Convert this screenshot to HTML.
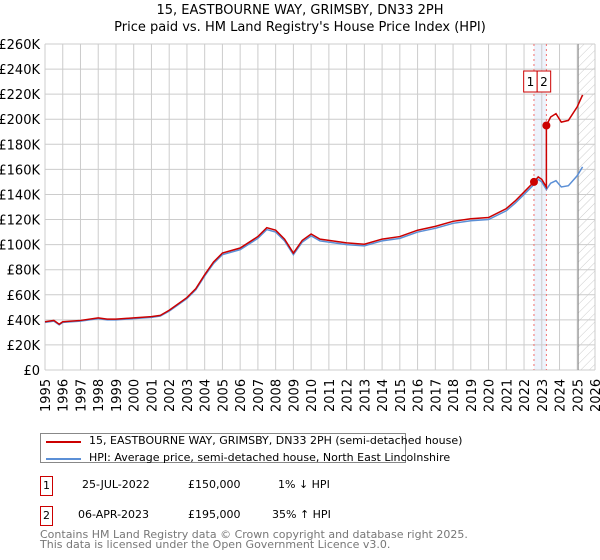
<!DOCTYPE html>
<html><head><meta charset="utf-8"><style>
body{margin:0;width:600px;height:560px;background:#fff;font-family:"DejaVu Sans","Liberation Sans",sans-serif;overflow:hidden;position:relative}
.t{position:absolute;font-size:12px;color:#000;white-space:nowrap}
</style></head><body>
<div class="t" style="left:0;width:600px;text-align:center;top:2px;font-size:13px;line-height:17px">15, EASTBOURNE WAY, GRIMSBY, DN33 2PH<br>Price paid vs. HM Land Registry's House Price Index (HPI)</div>
<svg id="c" width="600" height="420" style="position:absolute;left:0;top:0"></svg>
<div style="position:absolute;left:40px;top:433px;width:364px;height:28px;border:1px solid #888;font-size:11px">
 <div style="position:absolute;left:5px;top:7px;width:35px;height:2px;background:#cc0000"></div>
 <div class="t" style="left:48px;top:0px;font-size:11px">15, EASTBOURNE WAY, GRIMSBY, DN33 2PH (semi-detached house)</div>
 <div style="position:absolute;left:5px;top:24px;width:35px;height:2px;background:#5b8fd6"></div>
 <div class="t" style="left:48px;top:17px;font-size:11px">HPI: Average price, semi-detached house, North East Lincolnshire</div>
</div>
<div style="position:absolute;left:40px;top:476px;width:11px;height:18px;border:1px solid #cc0000;font-size:11px;text-align:center;line-height:18px">1</div>
<div class="t" style="left:82px;top:478px;font-size:11px">25-JUL-2022</div>
<div class="t" style="left:188px;top:478px;font-size:11px">£150,000</div>
<div class="t" style="left:278px;top:478px;font-size:11px">1% ↓ HPI</div>
<div style="position:absolute;left:40px;top:506px;width:11px;height:18px;border:1px solid #cc0000;font-size:11px;text-align:center;line-height:18px">2</div>
<div class="t" style="left:78px;top:508px;font-size:11px">06-APR-2023</div>
<div class="t" style="left:188px;top:508px;font-size:11px">£195,000</div>
<div class="t" style="left:272px;top:508px;font-size:11px">35% ↑ HPI</div>
<div class="t" style="left:40px;top:530px;font-size:11px;color:#777;line-height:10px">Contains HM Land Registry data © Crown copyright and database right 2025.<br>This data is licensed under the Open Government Licence v3.0.</div>
<script>
const hpiYears=[1995,1995.5,1995.8,1996,1997,1998,1998.5,1999,2000,2001,2001.5,2002,2003,2003.5,2004,2004.5,2005,2006,2007,2007.5,2008,2008.5,2009,2009.5,2010,2010.5,2011,2012,2013,2014,2015,2016,2017,2018,2019,2020,2021,2021.5,2022,2022.56,2022.8,2023,2023.26,2023.5,2023.8,2024.1,2024.5,2025,2025.3];
const hpiValues=[38,39,36,38,39,41,40,40,41,42,43,47,57,64,75,85,92,96,105,112,110,103,92,102,107,103,102,100,99,103,105,110,113,117,119,120,127,133,140,148,152,150,144,149,151,146,147,155,162];
const saleYears=[2022.56,2023.26];
const salePrices=[150,195];
const yTicks=[0,20,40,60,80,100,120,140,160,180,200,220,240,260];
const xTicks=[1995,1996,1997,1998,1999,2000,2001,2002,2003,2004,2005,2006,2007,2008,2009,2010,2011,2012,2013,2014,2015,2016,2017,2018,2019,2020,2021,2022,2023,2024,2025,2026];
const X0=45,X1=595,Y0=370,Y1=44;
const xs=y=>X0+(y-1995)/(2026-1995)*(X1-X0);
const ys=v=>Y0-v/260*(Y0-Y1);
const svg=document.getElementById('c');const NS='http://www.w3.org/2000/svg';
function mk(tag,at,name){const e=document.createElementNS(NS,tag);for(const k in at)e.setAttribute(k,at[k]);


svg.appendChild(e);return e;}
const defs=mk('defs',{},'defs');
defs.innerHTML='<pattern id="h" width="6" height="6" patternUnits="userSpaceOnUse" patternTransform="rotate(45)"><line x1="0" y1="0" x2="0" y2="6" stroke="#ccc" stroke-width="1"/></pattern>';
mk('rect',{x:xs(2025.05),y:Y1,width:X1-xs(2025.05),height:Y0-Y1,fill:'url(#h)'},'future-hatch');
mk('rect',{x:xs(saleYears[0]),y:Y1,width:xs(saleYears[1])-xs(saleYears[0]),height:Y0-Y1,fill:'#eef3fc'},'sale-span');
yTicks.forEach(v=>{mk('line',{x1:X0,x2:X1,y1:ys(v),y2:ys(v),stroke:'#ccc'},'y-gridline');
const t=mk('text',{x:40,y:ys(v)+5,'text-anchor':'end','font-size':13,fill:'#000'},'y-tick-label');t.textContent='£'+(v?v+'K':'0');});
xTicks.forEach(y=>{mk('line',{x1:xs(y),x2:xs(y),y1:Y1,y2:Y0,stroke:'#ccc'},'x-gridline');
const t=mk('text',{x:0,y:0,'font-size':13,fill:'#000',transform:`translate(${xs(y)+5},${Y0+42}) rotate(-90)`},'x-tick-label');t.textContent=y;});
mk('line',{x1:xs(2025.05),x2:xs(2025.05),y1:Y1,y2:Y0,stroke:'#888'},'data-end-line');
const mid=(xs(saleYears[0])+xs(saleYears[1]))/2-3;
saleYears.forEach((y,i)=>{mk('line',{x1:xs(y),x2:xs(y),y1:Y1,y2:Y0,stroke:'#f07070','stroke-dasharray':'2,3'},'sale-line-'+(i+1));
const bx=i==0?mid-13.5:mid;mk('rect',{x:bx,y:71,width:13.5,height:21,fill:'#fff',stroke:'#cc0000'},'sale-label-box');
const t=mk('text',{x:bx+6.75,y:86,'text-anchor':'middle','font-size':12},'sale-label');t.textContent=i+1;});
mk('polyline',{points:hpiYears.map((y,i)=>xs(y)+','+ys(hpiValues[i])).join(' '),fill:'none',stroke:'#5b8fd6','stroke-width':1.5},'hpi-line');
function hpiAt(y){for(let i=1;i<hpiYears.length;i++)if(y<=hpiYears[i]){const f=(y-hpiYears[i-1])/(hpiYears[i]-hpiYears[i-1]);return hpiValues[i-1]+f*(hpiValues[i]-hpiValues[i-1]);}return hpiValues[hpiValues.length-1];}
const r1=salePrices[0]/hpiAt(saleYears[0]),r2=salePrices[1]/hpiAt(saleYears[1]);
const pts=[];hpiYears.forEach((y,i)=>{if(y<=saleYears[1])pts.push([y,hpiValues[i]*r1]);});
pts.push([saleYears[1],salePrices[1]]);
hpiYears.forEach((y,i)=>{if(y>saleYears[1])pts.push([y,hpiValues[i]*r2]);});
mk('polyline',{points:pts.map(p=>xs(p[0])+','+ys(p[1])).join(' '),fill:'none',stroke:'#cc0000','stroke-width':1.5},'property-line');
saleYears.forEach((y,i)=>mk('circle',{cx:xs(y),cy:ys(salePrices[i]),r:4,fill:'#cc0000'},'sale-point-'+(i+1)));
</script>
</body></html>
